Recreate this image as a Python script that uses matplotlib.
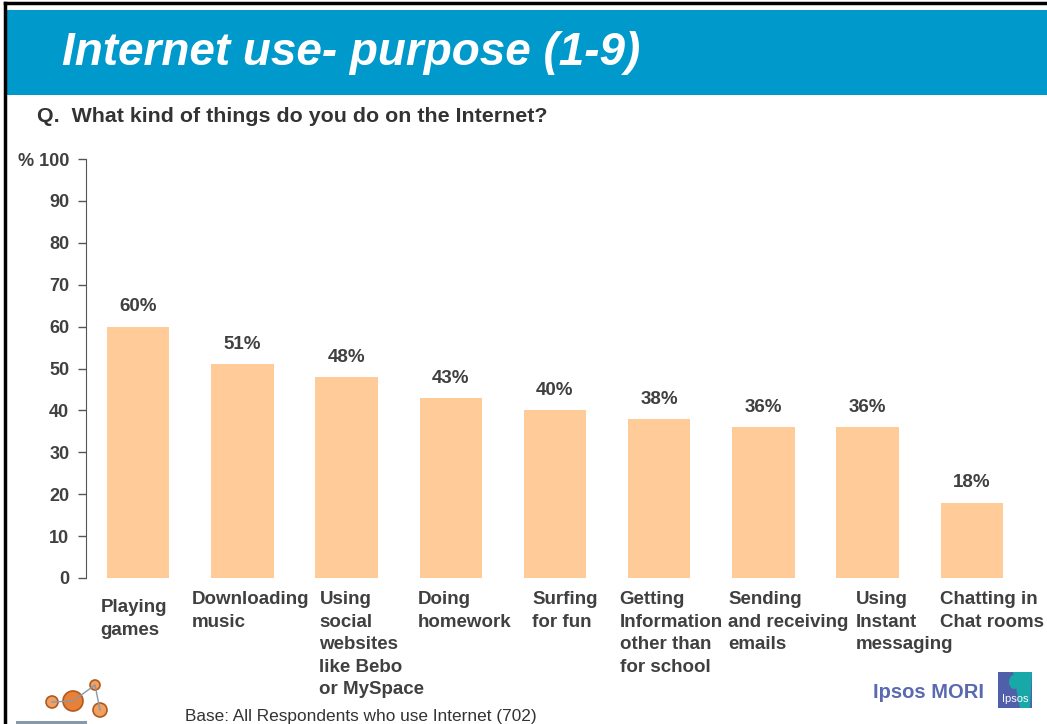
import matplotlib
matplotlib.use("Agg")
import matplotlib.pyplot as plt
from matplotlib.patches import Rectangle, Ellipse, Polygon
from matplotlib.lines import Line2D

categories = ["Playing\ngames", "Downloading\nmusic", "Using\nsocial\nwebsites\nlike Bebo\nor MySpace",
              "Doing\nhomework", "Surfing\nfor fun", "Getting\nInformation\nother than\nfor school",
              "Sending\nand receiving\nemails", "Using\nInstant\nmessaging", "Chatting in\nChat rooms"]
values = [60, 51, 48, 43, 40, 38, 36, 36, 18]
yticks = [0, 10, 20, 30, 40, 50, 60, 70, 80, 90, 100]
ytick_labels = ["0", "10", "20", "30", "40", "50", "60", "70", "80", "90", "% 100"]
label_dx = [-0.36, -0.49, -0.26, -0.32, -0.22, -0.38, -0.34, -0.11, -0.31]
label_y = [-5.1, -3.2, -3.2, -3.2, -3.2, -3.2, -3.2, -3.2, -3.2]

plt.rcParams['font.family'] = ['Liberation Sans', 'DejaVu Sans']
W, H = 1047, 724
fig = plt.figure(figsize=(W/100, H/100), dpi=100)
fig.patch.set_facecolor('white')

def fx(px):
    return px / W

def fy(py):
    return 1 - py / H

# banner and frame
fig.add_artist(Rectangle((fx(5), fy(95)), 1, 85/H, transform=fig.transFigure,
                         facecolor='#0099CC', edgecolor='none'))
fig.add_artist(Line2D([fx(5), fx(5)], [0, fy(3)], transform=fig.transFigure, color='black', lw=2.5))
fig.add_artist(Line2D([fx(5), 1], [fy(3), fy(3)], transform=fig.transFigure, color='black', lw=2.5))
fig.text(fx(62), fy(53), "Internet use- purpose (1-9)", color='white', fontsize=33,
         fontweight='bold', fontstyle='italic', va='center', ha='left')
fig.text(fx(37), fy(116), "Q.  What kind of things do you do on the Internet?", color='#333333',
         fontsize=15.4, fontweight='bold', va='center', ha='left')

ax = fig.add_axes([fx(86), fy(578), (1024-86)/W, (578-159)/H])
x = list(range(len(values)))
ax.bar(x, values, width=0.6, color='#FFCC99', edgecolor='none')
ax.set_xlim(-0.5, 8.5)
ax.set_ylim(0, 100)
ax.set_yticks(yticks)
ax.set_yticklabels(ytick_labels, fontsize=13, fontweight='bold', color='#404040')
ax.tick_params(axis='y', direction='out', length=6, width=1, color='#555555', pad=6)
ax.set_xticks([])
for s in ['top', 'right', 'bottom']:
    ax.spines[s].set_visible(False)
ax.spines['left'].set_color('#555555')

for xi, v in zip(x, values):
    ax.annotate(f"{v}%", (xi, v), xytext=(0, 8), textcoords='offset points',
                ha='center', va='bottom', fontsize=13.5, fontweight='bold', color='#404040')

line_step = 22.4 * 72 / 100  # points between lines
for xi, lab, dx, ly in zip(x, categories, label_dx, label_y):
    for k, line in enumerate(lab.split("\n")):
        ax.annotate(line, (xi + dx, ly), xytext=(0, -k * line_step), textcoords='offset points',
                    ha='left', va='top', fontsize=13.5, fontweight='bold', color='#404040',
                    annotation_clip=False)

fig.text(fx(185), fy(716), "Base: All Respondents who use Internet (702)", color='#333333',
         fontsize=12.4, va='center', ha='left')

# Ipsos logos
fig.text(fx(873), fy(692), "Ipsos MORI", color='#5A6AB0', fontsize=14.5, fontweight='bold',
         va='center', ha='left')
fig.add_artist(Rectangle((fx(998), fy(708)), 34/W, 36/H, transform=fig.transFigure,
                         facecolor='#4F5FAA', edgecolor='none'))
fig.add_artist(Polygon([(fx(1013), fy(672)), (fx(1032), fy(672)), (fx(1030), fy(708)), (fx(1020), fy(708))],
                       closed=True, transform=fig.transFigure, facecolor='#18A8A8', edgecolor='none'))
fig.add_artist(Ellipse((fx(1014), fy(682)), 10/W, 14/H, transform=fig.transFigure,
                       facecolor='#18A8A8', edgecolor='none'))
fig.text(fx(1015), fy(699), "Ipsos", color='white', fontsize=8, va='center', ha='center')

# left logo
fig.add_artist(Line2D([fx(52), fx(73), fx(95), fx(100)], [fy(702), fy(701), fy(685), fy(710)],
                      transform=fig.transFigure, color='#8899AA', lw=1))
for cx, cy, r, fc in [(52, 702, 6, '#F0A060'), (73, 701, 10, '#E88038'), (95, 685, 5, '#F0A060'),
                      (100, 710, 7, '#F0A060')]:
    fig.add_artist(Ellipse((fx(cx), fy(cy)), 2*r/W, 2*r/H, transform=fig.transFigure,
                           facecolor=fc, edgecolor='#B05A20', lw=1.2))
fig.add_artist(Rectangle((fx(16), fy(724)), 71/W, 3/H, transform=fig.transFigure,
                         facecolor='#8899AA', edgecolor='none'))

fig.savefig("out.png", dpi=100)
